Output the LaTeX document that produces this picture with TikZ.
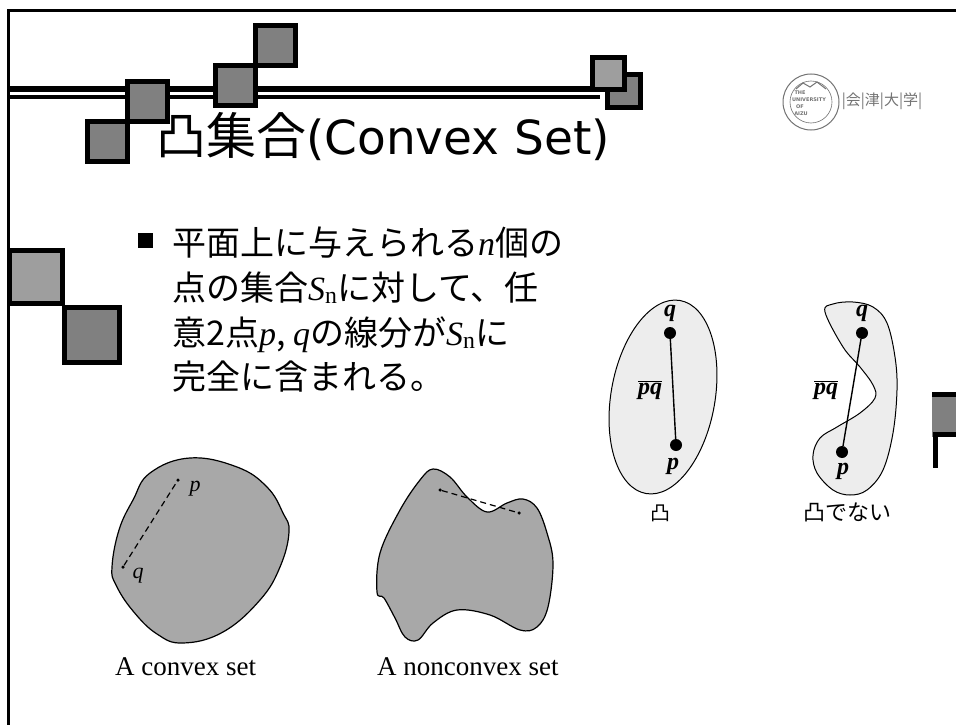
\documentclass[tikz,border=0pt]{standalone}
\usepackage{fontspec}
\newfontfamily\cjk{Noto Sans CJK JP}
\newfontfamily\dvs{DejaVu Sans}
\newfontfamily\tms{Liberation Serif}
\usetikzlibrary{positioning}

% set name with upright subscript
\newcommand\Sn{{\tms\itshape S}\textsubscript{\tms n}}

\tikzset{
  deco/.style={line width=5pt, draw=black},
  body/.style={anchor=base west, inner sep=0pt, font=\cjk\fontsize{34}{40}\selectfont},
  blob/.style={draw=black, line width=1.2pt, fill=black!34},
  oval/.style={draw=black, line width=1pt, fill=black!7},
  bigdot/.style={circle, fill=black, inner sep=0pt, minimum size=12pt},
  smalldot/.style={circle, fill=black, inner sep=0pt, minimum size=3.5pt},
  ptlabel/.style={inner sep=0pt, font=\tms\bfseries\itshape\fontsize{24}{24}\selectfont},
  caption/.style={anchor=base west, inner sep=0pt, font=\tms\fontsize{27}{27}\selectfont},
}

\begin{document}
\begin{tikzpicture}[x=1pt, y=-1pt]
	\useasboundingbox (0,0) rectangle (956,725);
	\fill[white] (0,0) rectangle (956,725);

	% slide frame and title rule
	\draw[line width=3pt] (8,725) -- (8,11) -- (956,11);
	\draw[line width=6pt] (8,89) -- (600,89);
	\draw[line width=4pt] (8,97) -- (600,97);

	% decorative squares: left/top/size/fill
	\foreach \x/\y/\s/\c in {125/79/45/black!50, 85/119/45/black!50, 253/23/45/black!50,
	                         213/63/45/black!50, 605/72/38/black!50, 590/55/37/black!38,
	                         62/305/60/black!50, 7/248/58/black!38}
		\filldraw[deco, fill=\c] (\x+2.5,\y+2.5) rectangle ++(\s-5,\s-5);
	\fill[black!50] (932,392) rectangle (956,437);
	\draw[line width=5pt] (932,394.5) -- (956,394.5);
	\draw[line width=5pt] (956,434) -- (935,434) -- (935,468);

	% university mark
	\begin{scope}[black!55]
		\draw[line width=1pt] (811,102) circle (28);
		\draw[line width=.6pt] (811,102) circle (21);
		\draw[line width=1pt] (796,89) -- (803,83) -- (810,87) -- (817,82) -- (826,89);
		\node (mk1) [inner sep=0pt, font=\dvs\bfseries\fontsize{5}{5}\selectfont] at (800,93) {THE};
		\node (mk2) [inner sep=0pt, font=\dvs\bfseries\fontsize{5}{5}\selectfont] at (809,100) {UNIVERSITY};
		\node (mk3) [inner sep=0pt, font=\dvs\bfseries\fontsize{5}{5}\selectfont] at (800,107) {OF};
		\node (mk4) [inner sep=0pt, font=\dvs\bfseries\fontsize{5}{5}\selectfont] at (801,114) {AIZU};
		\node (univ) [inner sep=0pt, font=\cjk\fontsize{15}{15}\selectfont] at (882,101) {|会|津|大|学|};
	\end{scope}

	% title
	\node (title) [anchor=base west, inner sep=0pt] at (156,154)
		{{\cjk\fontsize{50}{50}\selectfont 凸集合}{\dvs\fontsize{47}{47}\selectfont(Convex Set)}};

	% bullet text
	\node (bul) [fill=black, minimum size=15pt, inner sep=0pt] at (145.5,240.5) {};
	\node (l1) [body] at (172,255) {平面上に与えられる{\tms\itshape n}個の};
	\node (l2) [body] at (172,300) {点の集合\Sn に対して、任};
	\node (l3) [body] at (172,345) {意2点{\tms\itshape p}, {\tms\itshape q}の線分が\Sn に};
	\node (l4) [body] at (172,389) {完全に含まれる。};

	% convex set
	\draw[blob] plot[smooth cycle, tension=0.7] coordinates {(190,458) (237,467) (267,487)
		(283,513) (289,532) (280,567) (260,600) (223,632) (183,643) (157,634) (133,611)
		(116,585) (112,567) (119,530) (133,500) (150,473)};
	\node (cq) [smalldot] at (123,567) {};
	\node (cp) [smalldot] at (178,480) {};
	\draw[line width=1.2pt, dash pattern=on 6pt off 4pt] (cq) -- (cp);
	\node (cpl) [inner sep=0pt, font=\tms\itshape\fontsize{22}{22}\selectfont] at (195,489) {p};
	\node (cql) [inner sep=0pt, font=\tms\itshape\fontsize{22}{22}\selectfont] at (138,576) {q};
	\node (capA) [caption] at (115,675) {A convex set};

	% nonconvex set
	\draw[blob] plot[smooth cycle, tension=0.6] coordinates {(377,592) (380,553) (400,510)
		(420,480) (433,469) (450,477) (467,497) (487,512) (507,503) (523,499) (537,508)
		(547,533) (553,563) (548,607) (537,627) (520,630) (490,615) (457,610) (433,623)
		(418,640) (405,637) (395,618) (384,598)};
	\node (nq) [smalldot] at (440,490) {};
	\node (np) [smalldot] at (519,513) {};
	\draw[line width=1.2pt, dash pattern=on 6pt off 4pt] (nq) -- (np);
	\node (capB) [caption] at (377,675) {A nonconvex set};

	% convex oval with segment pq
	\draw[oval, rotate around={-10:(663,397)}] (663,397) ellipse [x radius=52, y radius=98];
	\node (oq) [bigdot] at (670,333) {};
	\node (op) [bigdot] at (676,445) {};
	\draw[line width=1.4pt] (oq) -- (op);
	\node (oql) [ptlabel] at (670,313) {q};
	\node (opl) [ptlabel] at (673,466) {p};
	\node (opq) [ptlabel] at (650,390) {$\overline{\mbox{\tms\bfseries\itshape pq}}$};
	\node (capC) [inner sep=0pt, font=\cjk\fontsize{20}{20}\selectfont] at (660,513) {凸};

	% S-shaped region with segment pq
	\draw[oval] plot[smooth cycle, tension=0.6] coordinates {(825,312) (843,347) (860,367)
		(873,385) (875,398) (860,413) (837,427) (820,438) (813,455) (817,473) (833,490)
		(850,495) (867,490) (883,470) (893,433) (897,390) (895,357) (887,323) (873,307)
		(853,302) (833,304)};
	\node (sq) [bigdot] at (862,333) {};
	\node (sp) [bigdot] at (842,452) {};
	\draw[line width=1.4pt] (sq) -- (sp);
	\node (sql) [ptlabel] at (862,313) {q};
	\node (spl) [ptlabel] at (843,471) {p};
	\node (spq) [ptlabel] at (826,390) {$\overline{\mbox{\tms\bfseries\itshape pq}}$};
	\node (capD) [inner sep=0pt, font=\cjk\fontsize{22}{22}\selectfont] at (847,512) {凸でない};
\end{tikzpicture}
\end{document}
